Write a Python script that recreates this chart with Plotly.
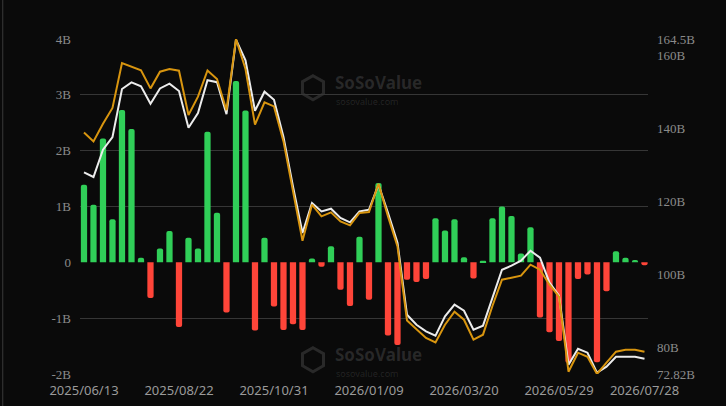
import pandas as pd
import plotly.graph_objects as go

# weekly categories (last point is the partial week ending 2026/07/28)
dates = [d.strftime("%Y/%m/%d") for d in pd.date_range("2025-06-13", periods=59, freq="7D")] + ["2026/07/28"]

# weekly net inflow (B USD)
net_inflow = [1.39, 1.03, 2.22, 0.77, 2.73, 2.39, 0.08, -0.64, 0.25, 0.56,
              -1.16, 0.44, 0.25, 2.34, 0.89, -0.90, 3.25, 2.72, -1.22, 0.44,
              -0.79, -1.21, -1.11, -1.21, 0.07, -0.08, 0.29, -0.49, -0.78, 0.46,
              -0.67, 1.42, -1.31, -1.48, -0.31, -0.35, -0.30, 0.79, 0.57, 0.77,
              0.09, -0.29, 0.03, 0.79, 1.00, 0.83, 0.16, 0.63, -0.99, -1.25,
              -1.41, -1.80, -0.30, -0.22, -1.79, -0.52, 0.20, 0.08, 0.04, -0.05]

# total net assets (B USD) - orange
total_assets = [138.94, 136.48, 141.32, 145.62, 157.93, 157.00, 155.91, 150.98, 155.55, 156.29,
                155.82, 143.70, 148.71, 155.91, 153.55, 145.01, 164.50, 156.29, 141.05, 147.15,
                146.05, 136.48, 123.26, 109.30, 119.15, 115.95, 117.05, 114.58, 113.49, 116.88,
                117.15, 124.90, 115.95, 107.74, 87.49, 84.94, 82.67, 81.47, 86.31, 89.87,
                87.68, 82.21, 83.58, 91.51, 98.63, 99.17, 99.72, 102.73, 101.36, 97.26,
                93.97, 73.45, 78.65, 77.55, 72.82, 75.91, 78.92, 79.47, 79.47, 78.92]

# second value series (B USD) - white
value_line = [127.99, 126.73, 134.20, 137.68, 150.82, 152.62, 151.53, 146.79, 150.98, 152.27,
              150.27, 140.22, 144.25, 153.22, 152.68, 143.92, 164.31, 158.64, 144.88, 150.08,
              147.89, 137.68, 124.16, 111.41, 119.62, 117.32, 118.06, 115.51, 114.31, 117.32,
              117.78, 124.63, 116.96, 108.75, 89.05, 86.31, 84.48, 83.30, 88.58, 91.79,
              90.14, 84.94, 86.04, 93.70, 101.36, 102.46, 103.83, 106.56, 104.65, 97.81,
              94.25, 75.37, 79.74, 78.65, 73.18, 74.82, 77.55, 77.55, 77.55, 77.01]

x_tick_idx = [0, 10, 20, 30, 40, 50, 59]
left_ticks = [-2, -1, 0, 1, 2, 3, 4]
left_labels = ["-2B", "-1B", "0", "1B", "2B", "3B", "4B"]
right_ticks = [72.82, 80, 100, 120, 140, 160, 164.5]
right_labels = ["72.82B", "80B", "100B", "120B", "140B", "160B", "164.5B"]

GREEN = "#30cf58"
RED = "#ff4539"

fig = go.Figure()
fig.add_trace(go.Bar(
    x=dates, y=net_inflow,
    marker=dict(color=[GREEN if v >= 0 else RED for v in net_inflow], line=dict(width=0)),
    width=0.66, yaxis="y",
))
fig.add_trace(go.Scatter(
    x=dates, y=value_line, mode="lines",
    line=dict(color="#ececec", width=2), yaxis="y2",
))
fig.add_trace(go.Scatter(
    x=dates, y=total_assets, mode="lines",
    line=dict(color="#d8950f", width=2), yaxis="y2",
))

tick_font_serif = dict(family="Liberation Serif", size=13, color="#8a8a8a")

fig.update_layout(
    width=726, height=406,
    margin=dict(l=80, r=78, t=39, b=32),
    paper_bgcolor="#0a0a0a", plot_bgcolor="#0a0a0a",
    showlegend=False,
    barcornerradius=2,
    xaxis=dict(
        type="category", range=[-0.42, 59.37],
        tickvals=[dates[i] for i in x_tick_idx],
        ticktext=[dates[i] for i in x_tick_idx],
        tickfont=dict(family="Noto Sans", size=13, color="#9a9a9a"),
        showgrid=False, showline=False, zeroline=False, ticks="",
        ticklabelstandoff=7, automargin=False,
    ),
    yaxis=dict(
        range=[-2, 4], tickvals=left_ticks, ticktext=left_labels,
        tickfont=tick_font_serif, showgrid=False, zeroline=False, showline=False,
        ticks="", ticklabelstandoff=8, automargin=False,
        minor=dict(tickvals=[-2, -1, 1, 2, 3, 4], showgrid=True,
                   gridcolor="#363636", gridwidth=1, ticks=""),
    ),
    yaxis2=dict(
        range=[72.82, 164.5], overlaying="y", side="right",
        tickvals=right_ticks, ticktext=right_labels,
        tickfont=tick_font_serif, showgrid=False, zeroline=False, showline=False,
        ticks="", ticklabelstandoff=8, automargin=False,
    ),
)

# left frame edge
fig.add_shape(type="line", xref="paper", yref="paper",
              x0=-0.136, x1=-0.136, y0=-0.2, y1=1.2,
              line=dict(color="#3a3a3a", width=1))

# watermarks
def px2paper(px, py):
    return (px - 80) / 568, (374.3 - py) / 335

for cy in (88, 360):
    x1, y1 = px2paper(334, cy - 5)
    fig.add_annotation(x=x1, y=y1, xref="paper", yref="paper", xanchor="left", yanchor="middle",
                       text="<b>SoSoValue</b>", showarrow=False, borderpad=0,
                       font=dict(family="Noto Sans", size=17, color="rgba(255,255,255,0.13)"))
    x2, y2 = px2paper(335, cy + 14)
    fig.add_annotation(x=x2, y=y2, xref="paper", yref="paper", xanchor="left", yanchor="middle",
                       text="sosovalue.com", showarrow=False, borderpad=0,
                       font=dict(family="Noto Sans", size=9, color="rgba(255,255,255,0.11)"))
    # hexagon logo
    cx = 313
    pts = [(cx, cy - 12), (cx + 10.5, cy - 6), (cx + 10.5, cy + 6), (cx, cy + 12), (cx - 10.5, cy + 6), (cx - 10.5, cy - 6)]
    pp = [px2paper(a, b) for a, b in pts]
    path = "M " + " L ".join(f"{a:.4f},{b:.4f}" for a, b in pp) + " Z"
    fig.add_shape(type="path", path=path, xref="paper", yref="paper",
                  line=dict(color="rgba(255,255,255,0.13)", width=3), layer="below")

fig.write_html("out.html")
